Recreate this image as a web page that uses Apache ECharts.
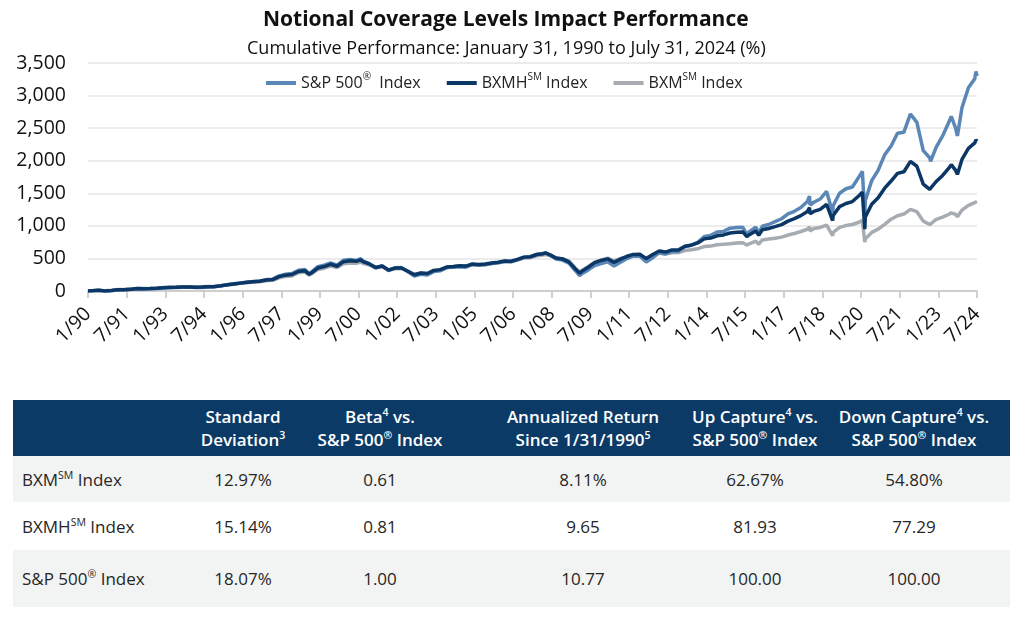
<!DOCTYPE html>
<html><head><meta charset="utf-8">
<script src="https://cdn.jsdelivr.net/npm/echarts/dist/echarts.min.js"></script>
<style>
html,body{margin:0;padding:0;background:#fff;width:1024px;height:618px;overflow:hidden;font-family:"Open Sans","Noto Sans",sans-serif;}
#chart{position:absolute;left:0;top:0;width:1024px;height:395px;}
#tbl{position:absolute;left:13px;top:400px;width:997px;}
.row{display:grid;grid-template-columns:187px 86px 188px 218px 126px 192px;align-items:center;}
.row>div{text-align:center;white-space:nowrap;}
.row>div:first-child{text-align:left;padding-left:9px;}
.head{background:#0b3a67;color:#fff;font-weight:600;font-size:17px;line-height:23px;height:56px;}
.r1{height:46px;background:#f2f4f4;}
.r2{height:48px;background:#fff;}
.r3{height:57px;background:#f2f4f4;}
.body{font-size:17px;color:#262626;}
sup{font-size:0.62em;vertical-align:super;line-height:0;}
</style></head>
<body>
<div id="chart"></div>
<div id="tbl"></div>
<script>
// ---- chart data (cumulative performance, %) ----
const dates = [
 '1990-01-31','1990-03-31','1990-06-30','1990-09-30','1990-12-31',
 '1991-03-31','1991-06-30','1991-09-30','1991-12-31',
 '1992-03-31','1992-06-30','1992-09-30','1992-12-31',
 '1993-03-31','1993-06-30','1993-09-30','1993-12-31',
 '1994-03-31','1994-06-30','1994-09-30','1994-12-31',
 '1995-03-31','1995-06-30','1995-09-30','1995-12-31',
 '1996-03-31','1996-06-30','1996-09-30','1996-12-31',
 '1997-03-31','1997-06-30','1997-09-30','1997-12-31',
 '1998-03-31','1998-06-30','1998-08-31','1998-09-30','1998-12-31',
 '1999-03-31','1999-06-30','1999-09-30','1999-12-31',
 '2000-03-31','2000-06-30','2000-08-31','2000-09-30','2000-12-31',
 '2001-03-31','2001-06-30','2001-09-30','2001-12-31',
 '2002-03-31','2002-06-30','2002-09-30','2002-12-31',
 '2003-03-31','2003-06-30','2003-09-30','2003-12-31',
 '2004-03-31','2004-06-30','2004-09-30','2004-12-31',
 '2005-03-31','2005-06-30','2005-09-30','2005-12-31',
 '2006-03-31','2006-06-30','2006-09-30','2006-12-31',
 '2007-03-31','2007-06-30','2007-09-30','2007-10-31','2007-12-31',
 '2008-03-31','2008-06-30','2008-09-30','2008-12-31',
 '2009-02-28','2009-03-31','2009-06-30','2009-09-30','2009-12-31',
 '2010-03-31','2010-06-30','2010-09-30','2010-12-31',
 '2011-03-31','2011-06-30','2011-09-30','2011-12-31',
 '2012-03-31','2012-06-30','2012-09-30','2012-12-31',
 '2013-03-31','2013-06-30','2013-09-30','2013-12-31',
 '2014-03-31','2014-06-30','2014-09-30','2014-12-31',
 '2015-03-31','2015-06-30','2015-08-25','2015-09-30','2015-12-31',
 '2016-02-11','2016-03-31','2016-06-30','2016-09-30','2016-12-31',
 '2017-03-31','2017-06-30','2017-09-30','2017-12-31',
 '2018-01-31','2018-02-08','2018-03-31','2018-06-30','2018-09-30','2018-12-24','2018-12-31',
 '2019-03-31','2019-06-30','2019-09-30','2019-12-31',
 '2020-02-19','2020-03-23','2020-03-31','2020-06-30','2020-09-30','2020-12-31',
 '2021-03-31','2021-06-30','2021-09-30','2021-12-31',
 '2022-03-31','2022-06-30','2022-09-30','2022-10-12','2022-12-31',
 '2023-03-31','2023-06-30','2023-07-31','2023-09-30','2023-10-27','2023-12-31',
 '2024-03-31','2024-06-30','2024-07-16','2024-07-31'
];
const sp500 = [
 0,4,10,-5,4,
 19,19,25,36,
 32,35,39,46,
 52,53,57,61,
 55,55,63,63,
 79,96,111,124,
 136,146,154,175,
 182,232,257,267,
 319,332,266,290,373,
 396,431,398,472,
 485,470,495,464,420,
 358,385,314,358,
 359,298,229,257,
 245,298,309,359,
 366,374,365,408,
 397,404,423,434,
 456,448,479,518,
 522,561,574,585,552,
 491,475,427,311,
 236,266,324,390,420,
 448,385,440,499,
 534,535,446,511,
 588,569,611,608,
 684,706,748,837,
 854,904,915,965,
 975,978,870,909,980,
 890,994,1021,1065,1109,
 1183,1223,1282,1374,
 1458,1320,1362,1412,1528,1200,1308,
 1500,1569,1597,1751,
 1835,1175,1389,1694,1853,2090,
 2226,2423,2438,2718,
 2588,2155,2045,1990,2208,
 2381,2597,2680,2508,2380,2813,
 3121,3260,3370,3300
];
const bxmh = [
 0,4,10,-1,8,
 21,21,27,37,
 36,39,44,50,
 55,57,60,63,
 59,61,67,69,
 82,96,109,121,
 133,143,150,168,
 176,220,243,253,
 300,312,255,275,352,
 375,410,380,450,
 465,455,478,452,415,
 360,384,322,352,
 354,304,250,276,
 268,316,328,368,
 376,386,382,414,
 406,414,430,440,
 460,456,486,520,
 526,560,573,585,560,
 505,492,448,338,
 277,303,364,435,469,
 493,440,490,533,
 562,564,497,560,
 615,598,631,631,
 686,703,738,800,
 812,847,861,890,
 903,907,835,864,922,
 855,939,960,988,1019,
 1073,1111,1157,1220,
 1280,1185,1221,1254,1330,1080,1159,
 1295,1343,1373,1462,
 1517,950,1136,1331,1431,1578,
 1688,1805,1830,1989,
 1915,1642,1560,1530,1681,
 1774,1889,1940,1856,1790,2019,
 2190,2273,2320,2301
];
const bxm = [
 0,4,9,3,12,
 22,24,29,39,
 39,43,48,54,
 58,59,63,65,
 63,66,71,74,
 85,96,105,117,
 128,137,143,158,
 165,203,222,232,
 280,292,245,262,330,
 350,383,360,418,
 430,425,445,425,400,
 352,372,318,340,
 345,300,255,275,
 265,310,322,360,
 370,380,378,405,
 400,408,422,432,
 450,448,476,505,
 512,540,552,560,545,
 505,495,458,350,
 290,316,376,444,476,
 504,464,498,521,
 543,546,504,555,
 582,568,588,590,
 621,632,650,682,
 689,709,716,725,
 738,742,705,725,766,
 718,784,797,811,827,
 859,883,913,948,
 985,920,959,975,1012,850,898,
 977,1004,1021,1055,
 1084,750,800,899,949,1023,
 1102,1156,1181,1252,
 1218,1073,1020,1000,1099,
 1135,1178,1200,1178,1140,1242,
 1315,1358,1385,1374
];
const xTickLabels = ['1/90','7/91','1/93','7/94','1/96','7/97','1/99','7/00','1/02','7/03','1/05','7/06',
 '1/08','7/09','1/11','7/12','1/14','7/15','1/17','7/18','1/20','7/21','1/23','7/24'];
const yTicks = [0,500,1000,1500,2000,2500,3000,3500];

// ---- table data ----
const tableHeaders = ['', 'Standard<br>Deviation<sup>3</sup>', 'Beta<sup>4</sup> vs.<br>S&amp;P 500<sup>®</sup> Index',
 'Annualized Return<br>Since 1/31/1990<sup>5</sup>', 'Up Capture<sup>4</sup> vs.<br>S&amp;P 500<sup>®</sup> Index',
 'Down Capture<sup>4</sup> vs.<br>S&amp;P 500<sup>®</sup> Index'];
const tableRowNames = ['BXM<sup>SM</sup> Index','BXMH<sup>SM</sup> Index','S&amp;P 500<sup>®</sup> Index'];
const stdDev = ['12.97%','15.14%','18.07%'];
const betaVals = ['0.61','0.81','1.00'];
const annReturn = ['8.11%','9.65','10.77'];
const upCapture = ['62.67%','81.93','100.00'];
const downCapture = ['54.80%','77.29','100.00'];

// build table
(function(){
 let h = '<div class="row head">' + tableHeaders.map(t=>'<div>'+t+'</div>').join('') + '</div>';
 tableRowNames.forEach((n,i)=>{
  h += '<div class="row body r'+(i+1)+'"><div>'+n+'</div><div>'+stdDev[i]+'</div><div>'+betaVals[i]+
   '</div><div>'+annReturn[i]+'</div><div>'+upCapture[i]+'</div><div>'+downCapture[i]+'</div></div>';
 });
 document.getElementById('tbl').innerHTML = h;
})();

function monthIdx(s){const p=s.split('-').map(Number);return (p[0]-1990)*12+(p[1]-1)+p[2]/31-1;}
function pairs(vals){return dates.map((d,i)=>[monthIdx(d),vals[i]]);}

const FONT = '"Open Sans","Noto Sans",sans-serif';
const chart = echarts.init(document.getElementById('chart'), null, {renderer:'canvas'});
const legendNames = {sp:'{t|S&P 500}{s|®}{t|  Index}', bxmh:'{t|BXMH}{s|SM}{t| Index}', bxm:'{t|BXM}{s|SM}{t| Index}'};
chart.setOption({
 animation:false,
 textStyle:{fontFamily:FONT},
 title:[
  {text:'Notional Coverage Levels Impact Performance',left:258,top:5,
   textStyle:{fontFamily:FONT,fontSize:21,fontWeight:'bold',color:'#111'}},
  {text:'Cumulative Performance: January 31, 1990 to July 31, 2024 (%)',left:242,top:35,
   textStyle:{fontFamily:FONT,fontSize:18,fontWeight:'normal',color:'#111'}}
 ],
 legend:{top:67,left:261,icon:'rect',itemWidth:30,itemHeight:4,itemGap:26,itemTextGap:4,
  data:['sp','bxmh','bxm'],
  formatter:n=>legendNames[n],
  textStyle:{fontFamily:FONT,color:'#222',fontSize:16,
   rich:{t:{fontFamily:FONT,fontSize:16,lineHeight:22,color:'#222'},
         s:{fontFamily:FONT,fontSize:10,lineHeight:12,verticalAlign:'top',color:'#222'}}}},
 grid:{left:88,right:47,top:63,bottom:104},
 xAxis:{type:'value',min:0,max:(xTickLabels.length-1)*18,interval:18,
  axisLine:{lineStyle:{color:'#c4c4c4',width:1.5}},
  axisTick:{show:true,length:7,lineStyle:{color:'#c4c4c4',width:1.5}},
  splitLine:{show:false},
  axisLabel:{rotate:45,margin:20,fontSize:19.5,color:'#111',fontFamily:FONT,
   formatter:v=>xTickLabels[Math.round(v/18)]||''}},
 yAxis:{type:'value',min:yTicks[0],max:yTicks[yTicks.length-1],interval:500,
  axisLine:{show:false},axisTick:{show:false},
  splitLine:{lineStyle:{color:'#e6e6e6',width:1.5}},
  axisLabel:{margin:22,fontSize:19.5,color:'#111',fontFamily:FONT,formatter:v=>v.toLocaleString('en-US')}},
 series:[
  {name:'bxm',type:'line',data:pairs(bxm),showSymbol:false,symbol:'none',lineStyle:{width:3.5,color:'#a7abb2'},itemStyle:{color:'#a7abb2'}},
  {name:'sp',type:'line',data:pairs(sp500),showSymbol:false,symbol:'none',lineStyle:{width:3.5,color:'#5a87b6'},itemStyle:{color:'#5a87b6'}},
  {name:'bxmh',type:'line',data:pairs(bxmh),showSymbol:false,symbol:'none',lineStyle:{width:3.5,color:'#0b3766'},itemStyle:{color:'#0b3766'}}
 ]
});
</script>
</body></html>
